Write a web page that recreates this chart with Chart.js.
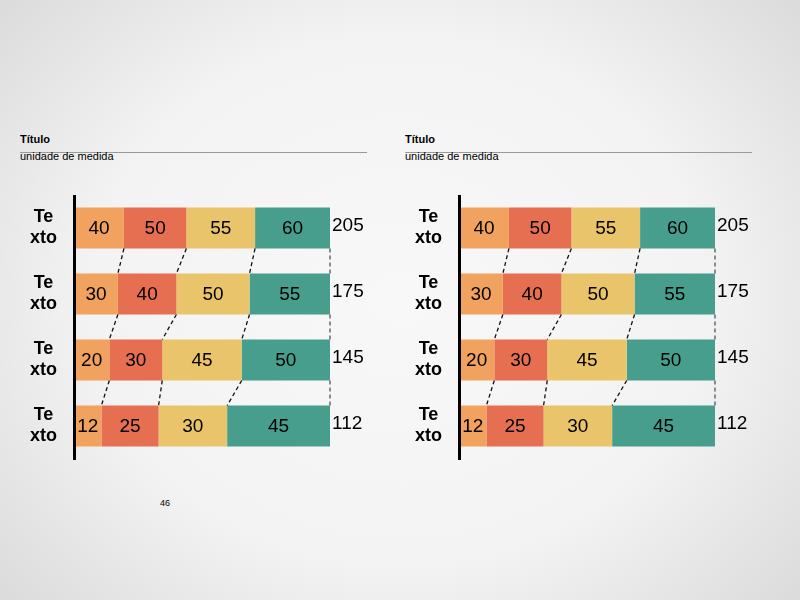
<!DOCTYPE html>
<html>
<head>
<meta charset="utf-8">
<script src="https://cdn.jsdelivr.net/npm/chart.js@4"></script>
<style>
  html, body { margin: 0; padding: 0; }
  body {
    width: 800px; height: 600px; position: relative; overflow: hidden;
    font-family: "Liberation Sans", Arial, sans-serif;
    background: radial-gradient(ellipse 70% 80% at 50% 50%, #f8f8f8 0%, #f3f3f3 55%, #d8d8d8 100%);
  }
  .titulo { position: absolute; top: 133px; font-size: 11px; font-weight: bold; color: #000; }
  .rule { position: absolute; top: 152px; width: 347px; height: 0; border-top: 1.5px solid #999; }
  .unidade { position: absolute; top: 150px; font-size: 11px; color: #000; }
  .box { position: absolute; top: 195px; width: 385px; height: 266px; }
  .page { position: absolute; left: 160px; top: 498px; font-size: 9px; color: #000; }
</style>
</head>
<body>
<div class="titulo" style="left:20px">Título</div>
<div class="rule" style="left:20px"></div>
<div class="unidade" style="left:20px">unidade de medida</div>

<div class="titulo" style="left:405px">Título</div>
<div class="rule" style="left:405px"></div>
<div class="unidade" style="left:405px">unidade de medida</div>

<div class="box" style="left:0px"><canvas id="chartLeft"></canvas></div>
<div class="box" style="left:385px"><canvas id="chartRight"></canvas></div>

<div class="page">46</div>

<script>
const categories = [['Te', 'xto'], ['Te', 'xto'], ['Te', 'xto'], ['Te', 'xto']];
const orangeValues = [40, 30, 20, 12];
const redValues = [50, 40, 30, 25];
const yellowValues = [55, 50, 45, 30];
const tealValues = [60, 55, 50, 45];
const segmentColors = ['#F2A25F', '#E76F51', '#E9C46A', '#479E8D'];

const series = [orangeValues, redValues, yellowValues, tealValues];
const totals = categories.map((c, i) => series.reduce((acc, s) => acc + s[i], 0));

// each bar is shown as share of its row total
function buildDatasets() {
  return series.map((values, d) => ({
    data: values.map((v, i) => v / totals[i] * 100),
    rawValues: values,
    backgroundColor: segmentColors[d],
    borderWidth: 0,
    barPercentage: 0.62,
    categoryPercentage: 1
  }));
}

const labelsPlugin = {
  id: 'labelsPlugin',
  afterDatasetsDraw(chart) {
    const ctx = chart.ctx;
    const metas = chart.data.datasets.map((ds, d) => chart.getDatasetMeta(d));
    const rows = categories.length;

    // dashed connectors between rows
    ctx.save();
    ctx.lineWidth = 1.3;
    ctx.setLineDash([4, 3]);
    for (let i = 0; i < rows - 1; i++) {
      metas.forEach((meta, d) => {
        const a = meta.data[i];
        const b = meta.data[i + 1];
        ctx.strokeStyle = d === metas.length - 1 ? '#555' : '#111';
        ctx.beginPath();
        ctx.moveTo(a.x, a.y + a.height / 2);
        ctx.lineTo(b.x, b.y - b.height / 2);
        ctx.stroke();
      });
    }
    ctx.restore();

    // values inside segments
    ctx.save();
    ctx.fillStyle = '#000';
    ctx.font = '19px "Liberation Sans", Arial, sans-serif';
    ctx.textAlign = 'center';
    ctx.textBaseline = 'middle';
    metas.forEach((meta, d) => {
      const raw = chart.data.datasets[d].rawValues;
      meta.data.forEach((bar, i) => {
        ctx.fillText(String(raw[i]), (bar.x + bar.base) / 2, bar.y + 1);
      });
    });

    // row totals on the right
    ctx.font = '19px "Liberation Sans", Arial, sans-serif';
    ctx.textAlign = 'left';
    metas[0].data.forEach((bar, i) => {
      ctx.fillText(String(totals[i]), chart.chartArea.right + 2, bar.y - 2);
    });
    ctx.restore();
  }
};

function makeChart(canvasId) {
  return new Chart(document.getElementById(canvasId), {
    type: 'bar',
    data: {
      labels: categories,
      datasets: buildDatasets()
    },
    options: {
      indexAxis: 'y',
      responsive: true,
      maintainAspectRatio: false,
      animation: false,
      layout: { autoPadding: false, padding: { top: 0, bottom: 2, left: 0, right: 55 } },
      plugins: {
        legend: { display: false },
        tooltip: { enabled: false }
      },
      scales: {
        x: {
          display: false,
          stacked: true,
          min: 0,
          max: 100
        },
        y: {
          stacked: true,
          grid: { display: false, drawTicks: false },
          border: { display: true, color: '#000', width: 3, z: 1 },
          ticks: {
            color: '#000',
            crossAlign: 'center',
            padding: 17,
            font: { family: '"Liberation Sans", Arial, sans-serif', size: 18, weight: 'bold', lineHeight: 1.17 }
          },
          afterFit(scale) {
            scale.width = 74;
            scale.paddingTop = 0;
            scale.paddingBottom = 0;
          }
        }
      }
    },
    plugins: [labelsPlugin]
  });
}

makeChart('chartLeft');
makeChart('chartRight');
</script>
</body>
</html>
